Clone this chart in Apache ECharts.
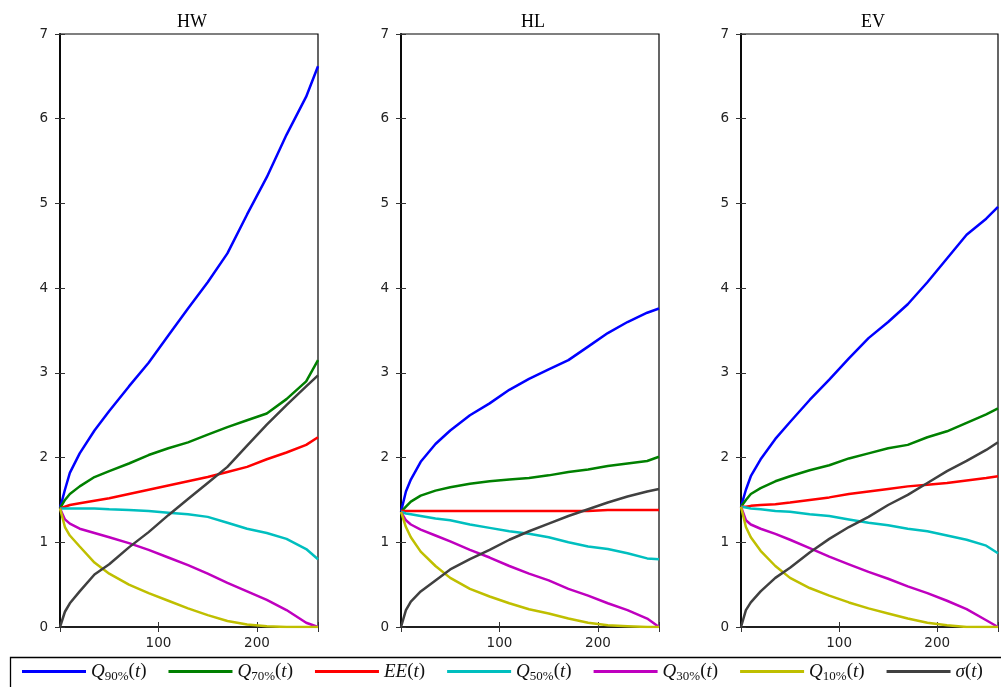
<!DOCTYPE html>
<html><head><meta charset="utf-8">
<script src="https://cdn.jsdelivr.net/npm/echarts@6/dist/echarts.min.js"></script>
<style>html,body{margin:0;padding:0;background:#fff}#c{width:1001px;height:687px}</style>
</head><body><div id="c"></div>
<script>
// ---- data ----
const panels = ['HW', 'HL', 'EV'];
const tGrid = [0, 5, 10, 20, 35, 50, 70, 90, 110, 130, 150, 170, 190, 210, 230, 250, 262];
const seriesNames = ['Q90%(t)', 'Q70%(t)', 'EE(t)', 'Q50%(t)', 'Q30%(t)', 'Q10%(t)', 'σ(t)'];
const xTicks = [100, 200];
const yTicks = [0, 1, 2, 3, 4, 5, 6, 7];

// HW
const hwQ90 = [1.40, 1.62, 1.82, 2.05, 2.32, 2.55, 2.84, 3.12, 3.44, 3.76, 4.07, 4.41, 4.87, 5.31, 5.81, 6.26, 6.62];
const hwQ70 = [1.40, 1.50, 1.57, 1.66, 1.77, 1.84, 1.93, 2.03, 2.11, 2.18, 2.27, 2.36, 2.44, 2.52, 2.69, 2.90, 3.15];
const hwEE  = [1.40, 1.42, 1.44, 1.46, 1.49, 1.52, 1.57, 1.62, 1.67, 1.72, 1.77, 1.83, 1.89, 1.98, 2.06, 2.15, 2.24];
const hwQ50 = [1.40, 1.40, 1.40, 1.40, 1.40, 1.39, 1.38, 1.37, 1.35, 1.33, 1.30, 1.23, 1.16, 1.11, 1.04, 0.92, 0.80];
const hwQ30 = [1.40, 1.27, 1.22, 1.16, 1.11, 1.06, 0.99, 0.91, 0.82, 0.73, 0.63, 0.52, 0.42, 0.32, 0.20, 0.05, 0.00];
const hwQ10 = [1.40, 1.18, 1.08, 0.95, 0.76, 0.63, 0.50, 0.40, 0.31, 0.22, 0.14, 0.07, 0.03, 0.01, 0.00, 0.00, 0.00];
const hwSig = [0.00, 0.18, 0.28, 0.42, 0.62, 0.74, 0.94, 1.12, 1.32, 1.51, 1.70, 1.89, 2.14, 2.39, 2.62, 2.84, 2.97];
// HL
const hlQ90 = [1.36, 1.60, 1.74, 1.95, 2.16, 2.32, 2.50, 2.64, 2.80, 2.93, 3.04, 3.15, 3.31, 3.47, 3.60, 3.71, 3.76];
const hlQ70 = [1.36, 1.42, 1.48, 1.55, 1.61, 1.65, 1.69, 1.72, 1.74, 1.76, 1.79, 1.83, 1.86, 1.90, 1.93, 1.96, 2.01];
const hlEE  = [1.37, 1.37, 1.37, 1.37, 1.37, 1.37, 1.37, 1.37, 1.37, 1.37, 1.37, 1.37, 1.37, 1.38, 1.38, 1.38, 1.38];
const hlQ50 = [1.36, 1.34, 1.33, 1.31, 1.28, 1.26, 1.21, 1.17, 1.13, 1.10, 1.06, 1.00, 0.95, 0.92, 0.87, 0.81, 0.80];
const hlQ30 = [1.36, 1.26, 1.21, 1.15, 1.08, 1.01, 0.91, 0.82, 0.72, 0.63, 0.55, 0.45, 0.37, 0.28, 0.20, 0.10, 0.00];
const hlQ10 = [1.36, 1.18, 1.06, 0.89, 0.72, 0.58, 0.45, 0.36, 0.28, 0.21, 0.16, 0.10, 0.05, 0.02, 0.01, 0.00, 0.00];
const hlSig = [0.00, 0.20, 0.30, 0.42, 0.55, 0.68, 0.80, 0.91, 1.03, 1.13, 1.22, 1.31, 1.39, 1.47, 1.54, 1.60, 1.63];
// EV
const evQ90 = [1.42, 1.62, 1.78, 1.98, 2.22, 2.42, 2.68, 2.92, 3.17, 3.41, 3.60, 3.81, 4.07, 4.35, 4.63, 4.82, 4.96];
const evQ70 = [1.42, 1.50, 1.57, 1.64, 1.72, 1.78, 1.85, 1.91, 1.99, 2.05, 2.11, 2.15, 2.24, 2.31, 2.41, 2.51, 2.58];
const evEE  = [1.42, 1.42, 1.43, 1.44, 1.45, 1.47, 1.50, 1.53, 1.57, 1.60, 1.63, 1.66, 1.68, 1.70, 1.73, 1.76, 1.78];
const evQ50 = [1.42, 1.41, 1.40, 1.39, 1.37, 1.36, 1.33, 1.31, 1.27, 1.23, 1.20, 1.16, 1.13, 1.08, 1.03, 0.96, 0.87];
const evQ30 = [1.42, 1.26, 1.21, 1.16, 1.10, 1.03, 0.93, 0.83, 0.74, 0.65, 0.57, 0.48, 0.40, 0.31, 0.21, 0.08, 0.00];
const evQ10 = [1.42, 1.18, 1.06, 0.90, 0.72, 0.58, 0.46, 0.37, 0.29, 0.22, 0.16, 0.10, 0.05, 0.02, 0.00, 0.00, 0.00];
const evSig = [0.00, 0.20, 0.29, 0.42, 0.58, 0.70, 0.88, 1.04, 1.18, 1.30, 1.44, 1.56, 1.70, 1.84, 1.96, 2.09, 2.18];

const panelData = [
  [hwQ90, hwQ70, hwEE, hwQ50, hwQ30, hwQ10, hwSig],
  [hlQ90, hlQ70, hlEE, hlQ50, hlQ30, hlQ10, hlSig],
  [evQ90, evQ70, evEE, evQ50, evQ30, evQ10, evSig]
];

// ---- style ----
const colors = ['#0000ff', '#008000', '#ff0000', '#00bfbf', '#bf00bf', '#bfbf00', '#404040'];
const gridLefts = [60, 401, 741];
const gridW = 258, gridTop = 34, gridH = 593;
const tickFont = {fontFamily: 'DejaVu Sans', fontSize: 13.5, color: '#222'};

const legendRich = {
  'Q90%(t)': '{i|Q}{s|90%}{u|(}{i|t}{u|)}',
  'Q70%(t)': '{i|Q}{s|70%}{u|(}{i|t}{u|)}',
  'EE(t)':   '{i|EE}{u|(}{i|t}{u|)}',
  'Q50%(t)': '{i|Q}{s|50%}{u|(}{i|t}{u|)}',
  'Q30%(t)': '{i|Q}{s|30%}{u|(}{i|t}{u|)}',
  'Q10%(t)': '{i|Q}{s|10%}{u|(}{i|t}{u|)}',
  'σ(t)':    '{i|σ}{u|(}{i|t}{u|)}'
};

const grids = [], xAxes = [], yAxes = [], series = [], titles = [];
panels.forEach((p, k) => {
  grids.push({left: gridLefts[k], top: gridTop, width: gridW, height: gridH, containLabel: false,
    show: true, borderColor: '#000', borderWidth: 1.2, backgroundColor: 'transparent'});
  titles.push({text: p, left: gridLefts[k] + gridW / 2 - 2, top: 8, textAlign: 'center',
    textStyle: {fontFamily: 'Liberation Serif', fontSize: 18, fontWeight: 'normal', color: '#000'}});
  xAxes.push({type: 'value', gridIndex: k, position: 'bottom', min: 0, max: 262, interval: 100,
    axisLine: {show: true, onZero: false, lineStyle: {color: '#000', width: 1.5}},
    axisTick: {show: true, inside: true, length: 5, lineStyle: {color: '#333'}},
    axisLabel: {margin: 9, ...tickFont, formatter: v => (xTicks.indexOf(v) >= 0 ? String(v) : '')},
    splitLine: {show: false}});
  yAxes.push({type: 'value', gridIndex: k, position: 'left', min: 0, max: 7, interval: 1,
    axisLine: {show: true, onZero: false, lineStyle: {color: '#000', width: 1.8}},
    axisTick: {show: true, inside: true, length: 5, lineStyle: {color: '#333'}},
    axisLabel: {margin: 12, ...tickFont, formatter: v => (yTicks.indexOf(v) >= 0 ? String(v) : '')},
    splitLine: {show: false}});
});
panels.forEach((p, k) => {
  xAxes.push({type: 'value', gridIndex: k, position: 'top', min: 0, max: 262, interval: 100,
    axisLine: {show: false}, axisLabel: {show: false}, splitLine: {show: false},
    axisTick: {show: true, inside: true, length: 5, lineStyle: {color: '#333'}}});
  yAxes.push({type: 'value', gridIndex: k, position: 'right', min: 0, max: 7, interval: 1,
    axisLine: {show: false}, axisLabel: {show: false}, splitLine: {show: false},
    axisTick: {show: true, inside: true, length: 5, lineStyle: {color: '#333'}}});
});
panels.forEach((p, k) => {
  panelData[k].forEach((vals, j) => {
    series.push({
      name: seriesNames[j], type: 'line', xAxisIndex: k, yAxisIndex: k,
      data: tGrid.map((t, i) => [t, vals[i]]),
      symbol: 'none', smooth: false, animation: false,
      lineStyle: {color: colors[j], width: 2.5}, itemStyle: {color: colors[j]},
      z: 2 + j
    });
  });
});

const chart = echarts.init(document.getElementById('c'), null, {renderer: 'canvas'});
chart.setOption({
  animation: false,
  backgroundColor: '#fff',
  title: titles,
  grid: grids,
  xAxis: xAxes,
  yAxis: yAxes,
  series: series,
  legend: {
    data: seriesNames, orient: 'horizontal', left: 22, top: 662, padding: 0,
    itemGap: 22, itemWidth: 64, itemHeight: 3, icon: 'rect',
    formatter: name => legendRich[name],
    textStyle: {
      color: '#000',
      rich: {
        i: {fontFamily: 'Liberation Serif', fontStyle: 'italic', fontSize: 19, lineHeight: 23, color: '#111'},
        u: {fontFamily: 'Liberation Serif', fontSize: 19, lineHeight: 23, color: '#111'},
        s: {fontFamily: 'Liberation Serif', fontSize: 13, lineHeight: 13, verticalAlign: 'bottom', color: '#111'}
      }
    }
  },
  graphic: [{
    type: 'rect', left: 8, top: 655, silent: true,
    shape: {width: 1010, height: 50},
    style: {fill: 'none', stroke: '#000', lineWidth: 1.3}
  }]
});
</script>
</body></html>
